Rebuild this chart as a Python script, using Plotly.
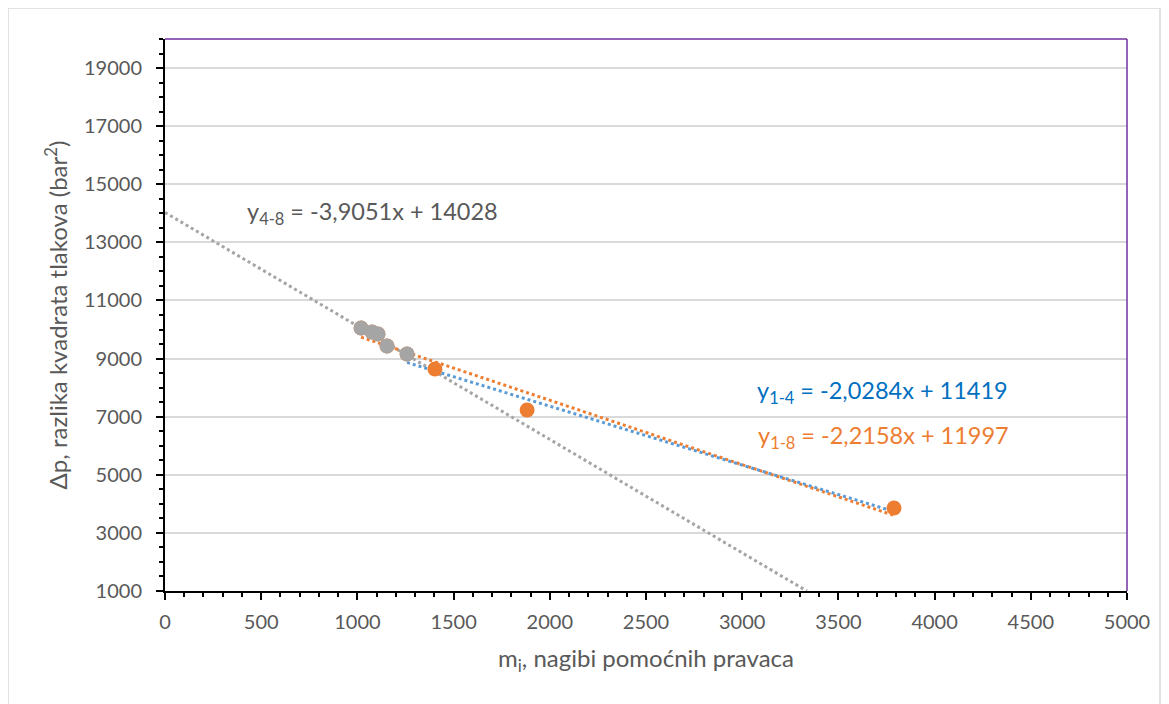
import numpy as np
import plotly.graph_objects as go

# Data points
m_all = [3789, 1882, 1403, 1258, 1154, 1107, 1076, 1019]      # points 1-8
dp_all = [3857, 7230, 8641, 9158, 9433, 9846, 9915, 10053]
m_48 = [1258, 1154, 1107, 1076, 1019]                          # points 4-8
dp_48 = [9158, 9433, 9846, 9915, 10053]

# Trendline coefficients (from equation labels)
k14, b14 = -2.0284, 11419
k18, b18 = -2.2158, 11997
k48, b48 = -3.9051, 14028

x_ticks = list(range(0, 5001, 500))
y_ticks = list(range(1000, 20001, 2000))

ORANGE = "#ED7D31"
GRAY = "#A5A5A5"
BLUE = "#5B9BD5"
TXT = "#595959"
FONT = "Lato"

fig = go.Figure()

# trendlines
x48 = np.array([0, (1000 - b48) / k48])
fig.add_trace(go.Scatter(x=x48, y=k48 * x48 + b48, mode="lines",
                         line=dict(color=GRAY, width=3, dash="dot"), showlegend=False))
x18 = np.array([min(m_all), max(m_all)])
fig.add_trace(go.Scatter(x=x18, y=k18 * x18 + b18, mode="lines",
                         line=dict(color=ORANGE, width=3, dash="dot"), showlegend=False))
x14 = np.array([min(m_all[:4]), max(m_all[:4])])
fig.add_trace(go.Scatter(x=x14, y=k14 * x14 + b14, mode="lines",
                         line=dict(color=BLUE, width=3, dash="dot"), showlegend=False))

# points
fig.add_trace(go.Scatter(x=m_all, y=dp_all, mode="markers",
                         marker=dict(color=ORANGE, size=15), showlegend=False))
fig.add_trace(go.Scatter(x=m_48, y=dp_48, mode="markers",
                         marker=dict(color=GRAY, size=15), showlegend=False))

# equation labels
fig.add_annotation(x=416, y=14011, xanchor="left", yanchor="middle", showarrow=False,
                   text="y<sub>4-8</sub> = -3,9051x + 14028", font=dict(family=FONT, size=23.5, color=TXT))
fig.add_annotation(x=3067, y=7850, xanchor="left", yanchor="middle", showarrow=False,
                   text="y<sub>1-4</sub> = -2,0284x + 11419", font=dict(family=FONT, size=23.5, color="#0070C0"))
fig.add_annotation(x=3072, y=6300, xanchor="left", yanchor="middle", showarrow=False,
                   text="y<sub>1-8</sub> = -2,2158x + 11997", font=dict(family=FONT, size=23.5, color=ORANGE))

# outer chart border
fig.add_shape(type="rect", xref="paper", yref="paper",
              x0=-0.1632, x1=1.0343, y0=-0.26, y1=1.056,
              line=dict(color="#D9D9D9", width=1.5), layer="below")
# purple plot-area border (top and right)
fig.add_shape(type="line", xref="paper", yref="paper", x0=0, x1=1, y0=1, y1=1,
              line=dict(color="#7030A0", width=1.5))
fig.add_shape(type="line", xref="paper", yref="paper", x0=1, x1=1, y0=0, y1=1,
              line=dict(color="#7030A0", width=1.5))

fig.update_xaxes(range=[0, 5000], tickvals=x_ticks, ticktext=[str(v) for v in x_ticks],
                 ticks="outside", ticklen=7, tickwidth=2, ticklabelstandoff=5,
                 tickcolor="black", showline=True, linecolor="black", linewidth=2,
                 showgrid=False, zeroline=False,
                 minor=dict(dtick=100, ticks="outside", ticklen=4, tickwidth=2, tickcolor="black"),
                 tickfont=dict(family=FONT, size=20, color=TXT),
                 title=dict(text="m<sub>i</sub>, nagibi pomoćnih pravaca",
                            font=dict(family=FONT, size=24, color=TXT), standoff=18))
fig.update_yaxes(range=[1000, 20000], tickvals=y_ticks, ticktext=[str(v) for v in y_ticks],
                 ticks="outside", ticklen=7, tickwidth=2, ticklabelstandoff=10,
                 tickcolor="black", showline=True, linecolor="black", linewidth=2,
                 showgrid=True, gridcolor="#D9D9D9", gridwidth=1.5, zeroline=False,
                 minor=dict(tick0=1000, dtick=500, ticks="outside", ticklen=4, tickwidth=2,
                            tickcolor="black", showgrid=False),
                 tickfont=dict(family=FONT, size=20, color=TXT),
                 title=dict(text="Δp, razlika kvadrata tlakova (bar<sup>2</sup>)",
                            font=dict(family=FONT, size=24, color=TXT), standoff=10))

fig.update_layout(width=1169, height=704, plot_bgcolor="white", paper_bgcolor="white",
                  margin=dict(l=157, r=50, t=31, b=121), showlegend=False)

fig.write_html("out.html")
